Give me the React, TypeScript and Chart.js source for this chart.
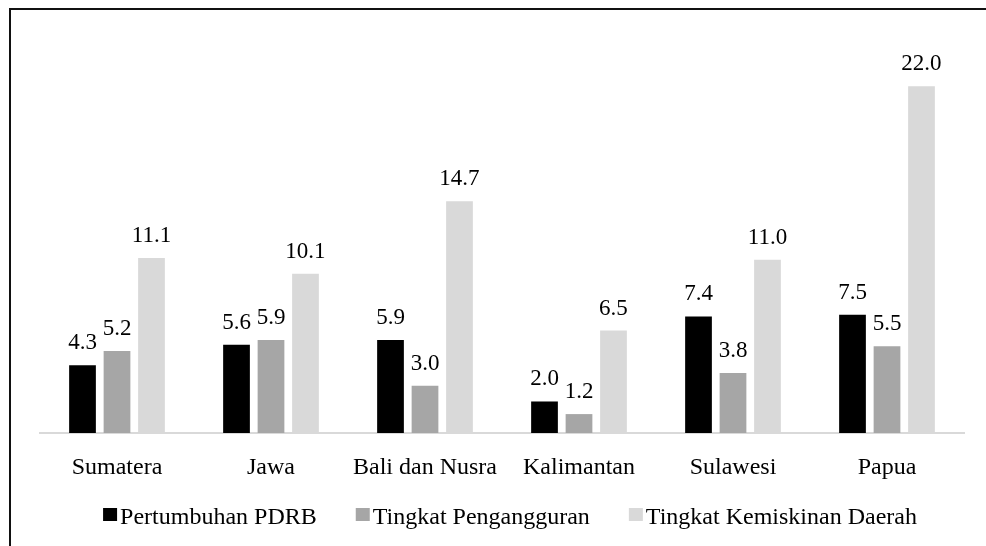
import React, { useEffect, useRef } from "react";
import { Chart, registerables } from "chart.js";

Chart.register(...registerables);

const categories = ["Sumatera", "Jawa", "Bali dan Nusra", "Kalimantan", "Sulawesi", "Papua"];
const seriesNames = ["Pertumbuhan PDRB", "Tingkat Pengangguran", "Tingkat Kemiskinan Daerah"];
const pertumbuhanPDRB = [4.3, 5.6, 5.9, 2.0, 7.4, 7.5];
const tingkatPengangguran = [5.2, 5.9, 3.0, 1.2, 3.8, 5.5];
const tingkatKemiskinan = [11.1, 10.1, 14.7, 6.5, 11.0, 22.0];
const colors = ["#000000", "#a6a6a6", "#d9d9d9"];

const FONT = "'Liberation Serif', 'Times New Roman', serif";

const dataLabelPlugin = {
  id: "dataLabels",
  afterDatasetsDraw(chart: any) {
    const ctx = chart.ctx;
    ctx.save();
    ctx.font = `23px ${FONT}`;
    ctx.fillStyle = "#000";
    ctx.textAlign = "center";
    ctx.textBaseline = "alphabetic";
    chart.data.datasets.forEach((ds: any, i: number) => {
      const meta = chart.getDatasetMeta(i);
      meta.data.forEach((el: any, j: number) => {
        const v = ds.data[j] as number;
        ctx.fillText(v.toFixed(1), el.x, el.y - 16);
      });
    });
    ctx.restore();
  },
};

const legendPlugin = {
  id: "customLegend",
  afterDraw(chart: any) {
    const ctx = chart.ctx;
    ctx.save();
    ctx.font = `24px ${FONT}`;
    ctx.textBaseline = "alphabetic";
    ctx.textAlign = "left";
    const box = 13;
    const gapBoxText = 3;
    const gapItems = 39;
    const widths = seriesNames.map((n) => ctx.measureText(n).width);
    const total = widths.reduce((a, w) => a + box + 1 + gapBoxText + w, 0) + gapItems * (seriesNames.length - 1);
    let x = 510 - total / 2;
    const baseline = 524;
    seriesNames.forEach((name, i) => {
      ctx.fillStyle = colors[i];
      ctx.fillRect(x, 508, box + 1, box);
      x += box + 1 + gapBoxText;
      ctx.fillStyle = "#000";
      ctx.fillText(name, x, baseline);
      x += widths[i] + gapItems;
    });
    ctx.restore();
  },
};

export default function App() {
  const ref = useRef<HTMLCanvasElement | null>(null);
  useEffect(() => {
    if (!ref.current) return;
    const chart = new Chart(ref.current, {
      type: "bar",
      data: {
        labels: categories,
        datasets: [
          { label: seriesNames[0], data: pertumbuhanPDRB, backgroundColor: colors[0] },
          { label: seriesNames[1], data: tingkatPengangguran, backgroundColor: colors[1] },
          { label: seriesNames[2], data: tingkatKemiskinan, backgroundColor: colors[2] },
        ],
      },
      options: {
        animation: false,
        responsive: false,
        maintainAspectRatio: false,
        layout: { padding: { top: 39, left: 40, right: 22, bottom: 0 } },
        datasets: { bar: { categoryPercentage: 0.672, barPercentage: 0.775 } },
        plugins: { legend: { display: false }, tooltip: { enabled: false } },
        scales: {
          x: {
            grid: { display: false, drawTicks: false },
            border: { display: true, color: "#d9d9d9", width: 2 },
            ticks: { color: "#000", font: { family: FONT, size: 24 }, padding: 20, maxRotation: 0, autoSkip: false },
            afterFit: (scale: any) => {
              scale.height = 113;
            },
          },
          y: { display: false, min: 0, max: 25 },
        },
      },
      plugins: [dataLabelPlugin, legendPlugin],
    } as any);
    return () => chart.destroy();
  }, []);
  return (
    <div style={{ position: "absolute", left: 0, top: 0, width: 986, height: 546, background: "#fff", overflow: "hidden" }}>
      <canvas ref={ref} width={986} height={546} style={{ position: "absolute", left: 0, top: 0, width: 986, height: 546 }} />
      <div
        style={{
          position: "absolute",
          left: 9,
          top: 8,
          width: 986,
          height: 546,
          borderTop: "2px solid #111",
          borderLeft: "2px solid #111",
          pointerEvents: "none",
        }}
      />
    </div>
  );
}
